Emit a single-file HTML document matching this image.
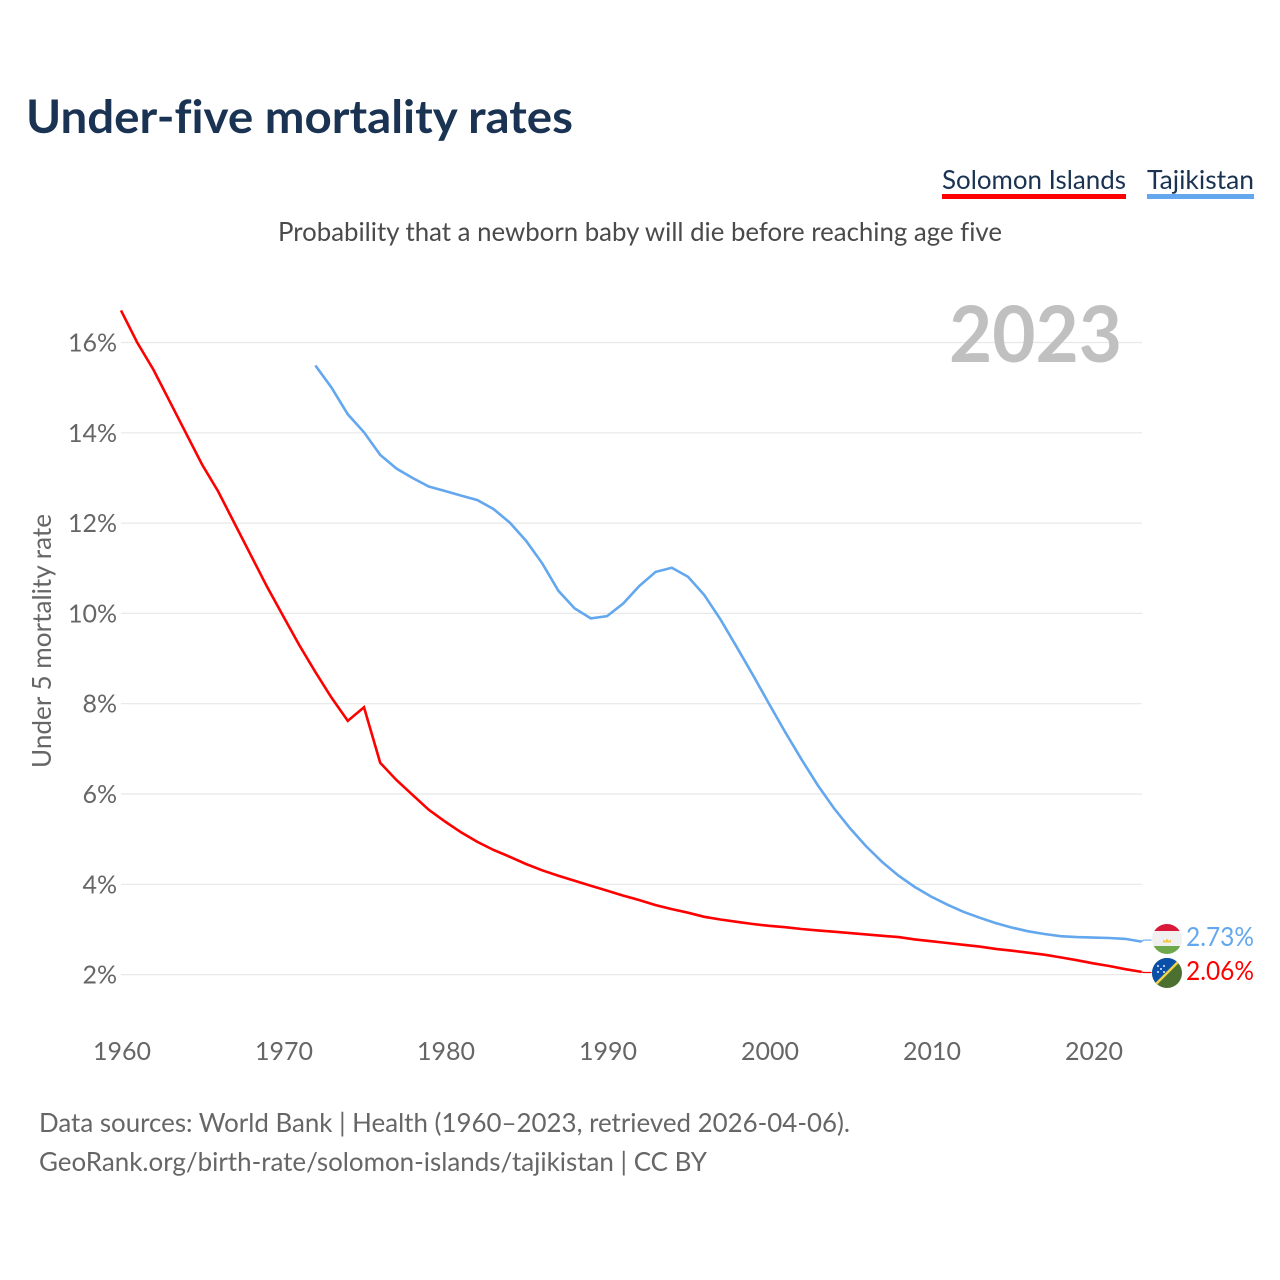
<!DOCTYPE html>
<html lang="en">
<head>
<meta charset="utf-8">
<title>Under-five mortality rates</title>
<style>
html,body{margin:0;padding:0;background:#fff;}
svg{display:block;}
text{font-family:"Lato","Carlito","Liberation Sans",sans-serif;font-variant-ligatures:none;}
</style>
</head>
<body>
<svg id="chart" width="1280" height="1280" viewBox="0 0 1280 1280" xmlns="http://www.w3.org/2000/svg">
  <rect x="0" y="0" width="1280" height="1280" fill="#fff"/>
  <text x="26" y="133" font-size="46" font-weight="700" fill="#1a3352" textLength="547" lengthAdjust="spacingAndGlyphs">Under-five mortality rates</text>
  <g>
    <text x="942" y="189" font-size="26" fill="#1a3352" textLength="184" lengthAdjust="spacingAndGlyphs">Solomon Islands</text>
    <rect x="942" y="194" width="184" height="5" fill="#ff0000"/>
  </g>
  <g>
    <text x="1147" y="189" font-size="26" fill="#1a3352" textLength="107" lengthAdjust="spacingAndGlyphs">Tajikistan</text>
    <rect x="1147" y="194" width="107" height="5" fill="#63a7ee"/>
  </g>
  <text x="278" y="241" font-size="26" fill="#4a4a4a" textLength="724" lengthAdjust="spacingAndGlyphs">Probability that a newborn baby will die before reaching age five</text>
  <g id="grid"></g>
  <g id="yticks"></g>
  <g id="xticks"></g>
  <text x="949" y="362" font-size="78" font-weight="700" fill="#c0c0c0" textLength="173" lengthAdjust="spacingAndGlyphs">2023</text>
  <text transform="translate(51,768) rotate(-90)" x="0" y="0" font-size="26" fill="#666" textLength="254" lengthAdjust="spacingAndGlyphs">Under 5 mortality rate</text>
  <g id="lines"></g>

  <g>
    <clipPath id="clipT"><circle cx="1167" cy="939" r="15"/></clipPath>
    <g clip-path="url(#clipT)">
      <rect x="1150" y="922" width="34" height="9" fill="#d8193a"/>
      <rect x="1150" y="931" width="34" height="15" fill="#f0f0f0"/>
      <rect x="1150" y="946" width="34" height="10" fill="#6fa84c"/>
      <path d="M1163 942.5 L1163 939.5 L1165 941 L1167 938.5 L1169 941 L1171 939.5 L1171 942.5 Z" fill="#f5c842"/>
    </g>
  </g>
  <g>
    <clipPath id="clipS"><circle cx="1167" cy="973" r="15"/></clipPath>
    <g clip-path="url(#clipS)">
      <rect x="1150" y="956" width="34" height="34" fill="#4b7030"/>
      <path d="M1150 990 L1184 956 L1150 956 Z" fill="#0b50a8"/>
      <path d="M1150 990 L1184 956" stroke="#f2d24a" stroke-width="2.5"/>
      <g fill="#e8eef8">
        <circle cx="1158" cy="966" r="1"/><circle cx="1164" cy="966" r="1"/><circle cx="1161" cy="969" r="1"/><circle cx="1158" cy="972" r="1"/><circle cx="1164" cy="972" r="1"/>
      </g>
    </g>
  </g>
  <text x="1186" y="946" font-size="26" fill="#63a7ee" textLength="68" lengthAdjust="spacingAndGlyphs">2.73%</text>
  <text x="1186" y="980" font-size="26" fill="#ff0000" textLength="68" lengthAdjust="spacingAndGlyphs">2.06%</text>

  <text x="39" y="1132" font-size="26" fill="#666" textLength="811" lengthAdjust="spacingAndGlyphs">Data sources: World Bank | Health (1960–2023, retrieved 2026-04-06).</text>
  <text x="39" y="1171" font-size="26" fill="#666" textLength="668" lengthAdjust="spacingAndGlyphs">GeoRank.org/birth-rate/solomon-islands/tajikistan | CC BY</text>
</svg>
<script>
const yTickValues = [2, 4, 6, 8, 10, 12, 14, 16];
const xTickYears = [1960, 1970, 1980, 1990, 2000, 2010, 2020];
const solomonStartYear = 1960;
const solomonValues = [16.71, 16.0, 15.4, 14.7, 14.0, 13.3, 12.7, 12.0, 11.3, 10.6, 9.95, 9.3, 8.7, 8.13, 7.62, 7.92, 6.69, 6.31, 5.98, 5.65, 5.39, 5.15, 4.94, 4.76, 4.61, 4.45, 4.31, 4.19, 4.08, 3.97, 3.86, 3.75, 3.65, 3.54, 3.45, 3.37, 3.28, 3.22, 3.17, 3.12, 3.08, 3.05, 3.01, 2.98, 2.95, 2.92, 2.89, 2.86, 2.83, 2.78, 2.74, 2.70, 2.66, 2.62, 2.57, 2.53, 2.485, 2.44, 2.38, 2.32, 2.25, 2.19, 2.12, 2.06];
const tajikStartYear = 1972;
const tajikValues = [15.49, 15.0, 14.41, 14.01, 13.51, 13.21, 13.0, 12.81, 12.71, 12.61, 12.51, 12.31, 12.01, 11.61, 11.11, 10.50, 10.11, 9.89, 9.94, 10.22, 10.61, 10.92, 11.01, 10.81, 10.41, 9.87, 9.26, 8.64, 8.0, 7.37, 6.77, 6.2, 5.69, 5.24, 4.84, 4.49, 4.19, 3.94, 3.73, 3.55, 3.39, 3.26, 3.14, 3.04, 2.96, 2.90, 2.85, 2.83, 2.82, 2.81, 2.79, 2.73];

const NS = 'http://www.w3.org/2000/svg';
function xScale(year) { return 121 + (year - 1960) * 16.2; }
function yScale(value) { return 974.6 - (value - 2) * 45.15; }

const grid = document.getElementById('grid');
const yticks = document.getElementById('yticks');
const xticks = document.getElementById('xticks');
const lines = document.getElementById('lines');

yTickValues.forEach(function (v) {
  const ln = document.createElementNS(NS, 'line');
  
  
  ln.setAttribute('x1', 121);
  ln.setAttribute('x2', 1142);
  ln.setAttribute('y1', yScale(v));
  ln.setAttribute('y2', yScale(v));
  ln.setAttribute('stroke', '#e8e8e8');
  ln.setAttribute('stroke-width', 1.2);
  grid.appendChild(ln);

  const t = document.createElementNS(NS, 'text');
  
  
  t.setAttribute('x', 117);
  t.setAttribute('y', yScale(v) + 9);
  t.setAttribute('text-anchor', 'end');
  t.setAttribute('font-size', 25);
  t.setAttribute('fill', '#666');
  t.textContent = v + '%';
  yticks.appendChild(t);
});

xTickYears.forEach(function (yr) {
  const t = document.createElementNS(NS, 'text');
  
  
  t.setAttribute('x', xScale(yr) + 1);
  t.setAttribute('y', 1060);
  t.setAttribute('text-anchor', 'middle');
  t.setAttribute('font-size', 25);
  t.setAttribute('fill', '#666');
  t.textContent = yr;
  xticks.appendChild(t);
});

function drawSeries(values, startYear, color, name, connectorRise) {
  const pts = values.map(function (v, i) {
    return xScale(startYear + i).toFixed(1) + ',' + yScale(v).toFixed(1);
  });
  const lastX = xScale(startYear + values.length - 1);
  const lastY = yScale(values[values.length - 1]);
  const p = document.createElementNS(NS, 'polyline');
  
  
  p.setAttribute('points', pts.join(' '));
  p.setAttribute('fill', 'none');
  p.setAttribute('stroke', color);
  p.setAttribute('stroke-width', 2.6);
  p.setAttribute('stroke-linejoin', 'miter');
  lines.appendChild(p);

  const c = document.createElementNS(NS, 'polyline');
  
  
  c.setAttribute('points', lastX + ',' + lastY + ' ' + (lastX + 2) + ',' + (lastY + connectorRise) + ' ' + (lastX + 10) + ',' + (lastY + connectorRise));
  c.setAttribute('fill', 'none');
  c.setAttribute('stroke', color);
  c.setAttribute('stroke-width', 1.2);
  lines.appendChild(c);
}
drawSeries(solomonValues, solomonStartYear, '#ff0000', 'line-solomon-islands', 0.6);
drawSeries(tajikValues, tajikStartYear, '#63a7ee', 'line-tajikistan', -1.6);
</script>
</body>
</html>
